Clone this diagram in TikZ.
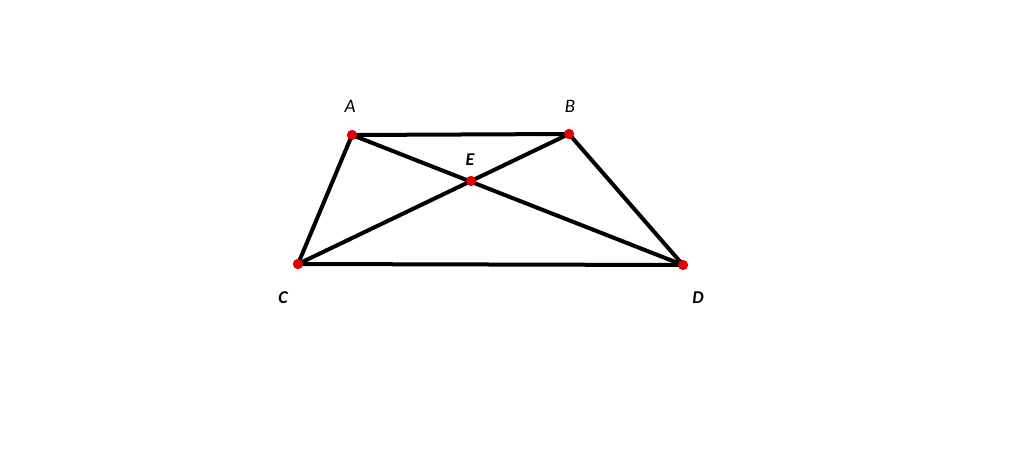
\documentclass[tikz,border=0pt]{standalone}
\usepackage{fontspec}
\setmainfont{Carlito}
\usetikzlibrary{positioning}

\begin{document}
\begin{tikzpicture}[x=1pt, y=-1pt, line width=4pt,
	pt/.style={circle, fill=red!90!black, draw=none, inner sep=0pt, minimum size=10pt},
	lbl/.style={font=\fontsize{19}{22}\selectfont\itshape, inner sep=0pt},
	blbl/.style={font=\fontsize{18}{21}\selectfont\bfseries\itshape, inner sep=0pt}]
	\useasboundingbox (0,0) rectangle (1024,471);
	% vertices
	\node[pt] (A) at (352,135) {};
	\node[pt] (B) at (569,134) {};
	\node[pt] (C) at (298,264) {};
	\node[pt] (D) at (683,265) {};
	\node[pt] (E) at (471,181) {};
	% sides and diagonals
	\draw (A.center) -- (B.center) -- (D.center) -- (C.center) -- cycle;
	\draw (A.center) -- (D.center);
	\draw (C.center) -- (B.center);
	% dots on top
	\foreach \p in {A,B,C,D,E} \node[pt] at (\p) {};
	% labels
	\node[lbl] (labA) at (350,106) {A};
	\node[lbl] (labB) at (570,106) {B};
	\node[blbl] (labE) at (470,160) {E};
	\node[blbl] (labC) at (283,298) {C};
	\node[blbl] (labD) at (698,298) {D};
\end{tikzpicture}
\end{document}
